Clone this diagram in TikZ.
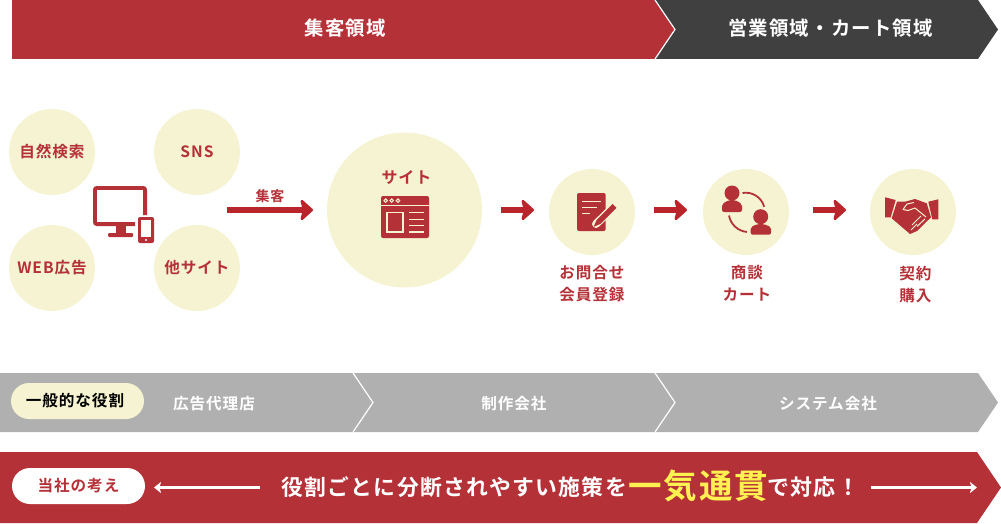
\documentclass[tikz,border=0pt]{standalone}
\usepackage{fontspec}
\usetikzlibrary{arrows.meta}
\setmainfont{Noto Sans CJK JP}[BoldFont=* Bold]
\newfontfamily\jpa{Noto Sans CJK JP Bold}[LetterSpace=6]
\definecolor{brand}{HTML}{B53138}
\definecolor{arrowred}{HTML}{B9252B}
\definecolor{darkband}{HTML}{404040}
\definecolor{greyband}{HTML}{B0B0B0}
\definecolor{cream}{HTML}{F5F3D2}
\definecolor{hilite}{HTML}{FFF14F}
\newcommand\lowered[1]{\raisebox{-1.6pt}{#1}}
\tikzset{
 x=1pt,y=-1pt,
 bandsep/.style={draw=white,line width=1.2pt,line join=miter},
 bandtxt/.style={text=white,font=\jpa\fontsize{19.4}{19.4}\selectfont,inner sep=0},
 roletxt/.style={text=white,font=\jpa\fontsize{15.6}{15.6}\selectfont,inner sep=0},
 bubble/.style={circle,fill=cream,minimum size=86pt,inner sep=0,text=brand,font=\jpa\fontsize{15.6}{15.6}\selectfont},
 caption/.style={text=brand,font=\jpa\fontsize{15.6}{22}\selectfont,inner sep=0,align=center},
 pill/.style={rounded corners=18pt,minimum width=133pt,minimum height=36pt,inner sep=0,font=\jpa\fontsize{15.6}{15.6}\selectfont},
 flow/.style={draw=arrowred,line width=5.2pt,-{Stealth[length=14pt,width=25pt,inset=3pt,round=false]}},
 thin arrow/.style={draw=white,line width=2.2pt,-{Stealth[length=7pt,width=11pt,inset=1.5pt]}},
 cut/.style={draw=cream,line width=1.2pt},
}
\begin{document}
\begin{tikzpicture}
\useasboundingbox (0,0) rectangle (1001,524);
% top bands
\fill[darkband] (655,0) -- (978,0) -- (998,29.5) -- (978,59) -- (655,59) -- (675,29.5) -- cycle;
\fill[brand] (12,0) -- (655,0) -- (675,29.5) -- (655,59) -- (12,59) -- cycle;
\draw[bandsep] (655,0) -- (675,29.5) -- (655,59);
\node[bandtxt] (acq) at (345,28.5) {集客領域};
\node[bandtxt] (sales) at (830.5,28.5) {営業領域・カート領域};
% source bubbles
\node[bubble] (organic) at (52,152) {\lowered{自然検索}};
\node[bubble] (sns) at (197,152) {\lowered{SNS}};
\node[bubble] (ads) at (52,268) {\lowered{WEB広告}};
\node[bubble] (other) at (197,268) {\lowered{他サイト}};
% devices icon
\draw[brand,line width=3.8pt,rounded corners=2pt] (145.1,215) -- (145.1,187.9) -- (94.9,187.9) -- (94.9,224.1) -- (135,224.1);
\fill[brand] (116,226) rectangle (126,233);
\fill[brand,rounded corners=1pt] (108,233) rectangle (133,237);
\fill[brand,rounded corners=2pt] (138,217) rectangle (154,243);
\fill[white] (141,220) rectangle (151,237);
\fill[white] (146,240) circle (1.2);
% acquisition arrow
\coordinate (f0) at (227,210);
\coordinate (f1) at (313,210);
\draw[flow] (f0) -- (f1) node[midway,yshift=14pt,text=brand,font=\jpa\fontsize{14}{14}\selectfont,inner sep=0] (flab) {集客};
% site
\node[circle,fill=cream,minimum size=155pt,inner sep=0] (site) at (404.5,210) {};
\node[text=brand,font=\jpa\fontsize{16}{16}\selectfont,inner sep=0] (sitelab) at (406.5,178) {サイト};
\fill[brand,rounded corners=2pt] (381,196) rectangle (429,238);
\draw[cut] (381,205.7) -- (429,205.7);
\foreach \cx in {385.7,391.7,398} \draw[cut,line width=1pt,fill=brand] (\cx,200.6) circle (1.7);
\draw[cut] (387,212.7) rectangle (403,232);
\foreach \ly in {212.7,219.3,225.7,232} \draw[cut] (409,\ly) -- (424,\ly);
% steps
\node[bubble] (reg) at (592,212) {};
\node[bubble] (talk) at (746,212) {};
\node[bubble] (deal) at (913,212) {};
\coordinate (a0) at (501,210); \coordinate (a1) at (534,210);
\coordinate (b0) at (654,210); \coordinate (b1) at (687,210);
\coordinate (c0) at (813,210); \coordinate (c1) at (846,210);
\draw[flow] (a0) -- (a1);
\draw[flow] (b0) -- (b1);
\draw[flow] (c0) -- (c1);
\node[caption] (regl) at (592,283.5) {お問合せ\\会員登録};
\node[caption] (talkl) at (747,283.5) {商談\\カート};
\node[caption] (deall) at (915.5,284.5) {契約\\購入};
% note icon
\fill[brand,rounded corners=2pt] (577,193) rectangle (605.7,231);
\draw[cut,line width=1.6pt] (582,201.3) -- (601,201.3);
\draw[cut,line width=1.6pt] (582,207.3) -- (597,207.3);
\draw[cut,line width=1.6pt] (582,213.3) -- (590,213.3);
\draw[cream,line width=8pt,line cap=round] (613,207.5) -- (596,224);
\draw[brand,line width=5.6pt] (614.5,206) -- (598.5,222);
\fill[brand] (600.4,223.9) -- (596.6,220.1) -- (593.6,226.8) -- cycle;
% people icon
\fill[brand] (732,193) circle (7.5);
\fill[brand,rounded corners=2pt] (722,212) -- (722,204) -- (729,200) -- (735,200) -- (742,204) -- (742,212) -- cycle;
\fill[brand] (760.7,216.7) circle (7.5);
\fill[brand,rounded corners=2pt] (750.7,234.7) -- (750.7,227) -- (757.7,224) -- (763.7,224) -- (771,227) -- (771,234.7) -- cycle;
\draw[brand,line width=1.8pt] (742.5,193) arc[start angle=-100,end angle=-15,radius=19];
\draw[brand,line width=1.8pt] (729,215.5) arc[start angle=170,end angle=95,radius=20];
% handshake icon
\fill[brand] (885,197.3) -- (895.7,200) -- (890.7,217.3) -- (885,217.3) -- cycle;
\fill[brand] (938.3,199.3) -- (928.3,201.7) -- (932.3,219.3) -- (938.3,219.3) -- cycle;
\fill[brand] (897,201.7) -- (905,201.7) -- (915,199) -- (926.7,203.3) -- (931,217.3) -- (917,231) -- (910,234) -- (891.7,218.3) -- cycle;
\draw[cream,line width=1pt,line join=round] (926,217) -- (915,208) -- (908,210.5) -- (903,209.5) -- (907,204) -- (914,202.5);
\draw[cream,line width=1pt] (925,219) -- (917,226.5);
\draw[cream,line width=1pt] (921,216) -- (912,225);
\draw[cream,line width=1pt] (917,224) -- (911,230);
% role band
\fill[greyband] (0,373) -- (978,373) -- (998,402.5) -- (978,432) -- (0,432) -- cycle;
\draw[bandsep] (353,373) -- (373,402.5) -- (353,432);
\draw[bandsep] (655,373) -- (675,402.5) -- (655,432);
\node[pill,fill=cream,text=black] (rolepill) at (77.5,401) {\hspace{-5pt}一般的な役割};
\node[roletxt] (r1) at (214,404) {広告代理店};
\node[roletxt] (r2) at (514,404) {制作会社};
\node[roletxt] (r3) at (828,404) {システム会社};
% message band
\fill[brand] (0,452) -- (977,452) -- (1001,487.5) -- (977,523) -- (0,523) -- cycle;
\node[pill,fill=white,text=brand] (ourpill) at (78.5,486) {当社の考え};
\node[text=white,font=\jpa\fontsize{21.8}{21.8}\selectfont,inner sep=0,anchor=east] (msgl) at (627,487) {役割ごとに分断されやすい施策を};
\node[text=hilite,font=\jpa\fontsize{33.5}{33.5}\selectfont,inner sep=0,anchor=west] (msgm) at (628,486) {一気通貫};
\node[text=white,font=\jpa\fontsize{22}{22}\selectfont,inner sep=0,anchor=west] (msgr) at (767,487) {で対応！};
\coordinate (l0) at (260,487.5); \coordinate (l1) at (154,487.5);
\coordinate (q0) at (871,487.5); \coordinate (q1) at (977,487.5);
\draw[thin arrow] (l0) -- (l1);
\draw[thin arrow] (q0) -- (q1);
\end{tikzpicture}
\end{document}
